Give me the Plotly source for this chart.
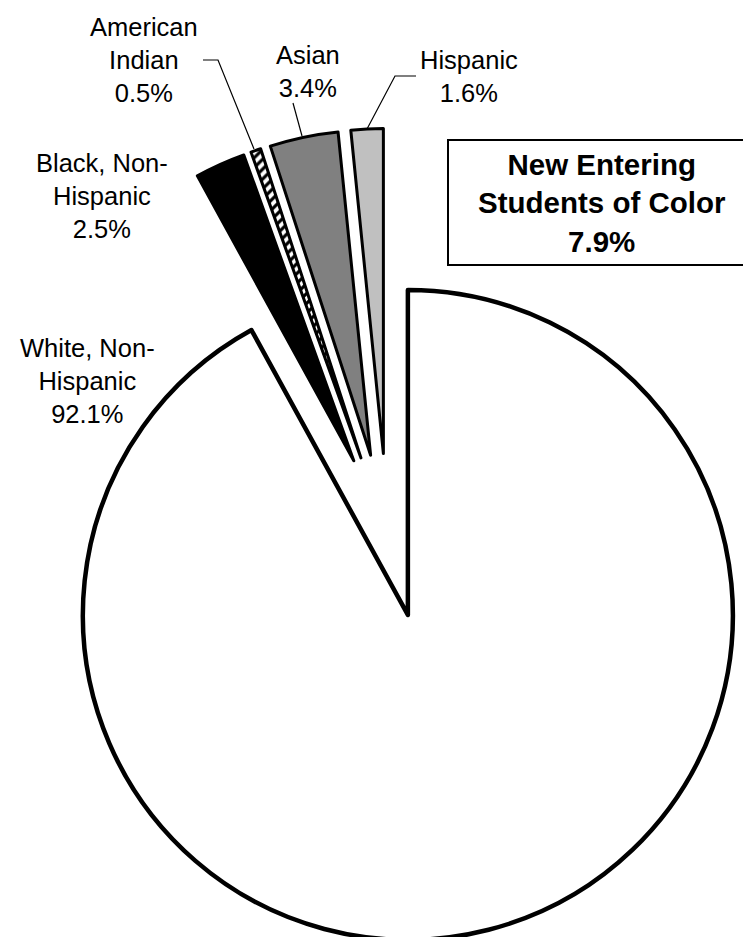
import math
import plotly.graph_objects as go

# ---------------- data ----------------
categories = ["White, Non-Hispanic", "Black, Non-Hispanic", "American Indian", "Asian", "Hispanic"]
values = [92.1, 2.5, 0.5, 3.4, 1.6]
label_texts = [
    "White, Non-<br>Hispanic<br>92.1%",
    "Black, Non-<br>Hispanic<br>2.5%",
    "American<br>Indian<br>0.5%",
    "Asian<br>3.4%",
    "Hispanic<br>1.6%",
]
summary_text = "<b>New Entering<br>Students of Color<br>7.9%</b>"

# ---------------- style / layout ----------------
W, H = 751, 937
CX, CY = 379.5, 527.5      # pie centre (px)
R = 325                    # pie radius (px)
EXPLODE = 82               # explosion distance of every slice (px)
fills = ["#ffffff", "#000000", "#ffffff", "#808080", "#c0c0c0"]
patterns = ["", "", "/", "", ""]
line_widths = [4.5, 3, 3, 3, 3]
FONT = "Arial, Liberation Sans, sans-serif"

label_pos = [(79, 373), (94, 188), (136, 52), (300, 63), (461, 68.5)]
leaders = [
    None,
    None,
    [(195, 52), (210, 52), (246, 141)],
    [(285, 95), (294, 128)],
    [(408, 68), (387, 68), (359, 121)],
]


def px(x):
    return x / W


def py(y):
    return 1 - y / H


fig = go.Figure()
n = len(values)
total = sum(values)
cum = 0.0
for i, v in enumerate(values):
    a0 = cum / total * 360.0
    cum += v
    a1 = cum / total * 360.0
    mid = math.radians((a0 + a1) / 2)
    vx = CX + EXPLODE * math.sin(mid)
    vy = CY - EXPLODE * math.cos(mid)
    colors = ["rgba(0,0,0,0)"] * n
    colors[i] = fills[i]
    lw = [0] * n
    lw[i] = line_widths[i]
    shp = [""] * n
    shp[i] = patterns[i]
    fig.add_trace(go.Pie(
        values=values,
        labels=categories,
        sort=False,
        direction="clockwise",
        rotation=0,
        textinfo="none",
        textposition="none",
        showlegend=False,
        hoverinfo="label+percent",
        marker=dict(
            colors=colors,
            line=dict(color="#000000", width=lw),
            pattern=dict(shape=shp, fgcolor="#000000", size=7, solidity=0.45),
        ),
        domain=dict(x=[px(vx - R), px(vx + R)], y=[py(vy + R), py(vy - R)]),
    ))

annotations = []
for txt, (x, y) in zip(label_texts, label_pos):
    annotations.append(dict(
        x=px(x), y=py(y), xref="paper", yref="paper", text=txt, showarrow=False,
        xanchor="center", yanchor="middle", align="center",
        font=dict(family=FONT, size=25.5, color="#000000"),
    ))
annotations.append(dict(
    x=px(594), y=py(195), xref="paper", yref="paper", text=summary_text, showarrow=False,
    xanchor="center", yanchor="middle", align="center",
    font=dict(family=FONT, size=29.5, color="#000000"),
))

shapes = []
for pts in leaders:
    if not pts:
        continue
    path = "M " + " L ".join(f"{px(x):.5f},{py(y):.5f}" for x, y in pts)
    shapes.append(dict(type="path", xref="paper", yref="paper", path=path,
                       line=dict(color="#000000", width=1.2)))
shapes.append(dict(type="rect", xref="paper", yref="paper",
                   x0=px(440), x1=px(748), y0=py(257), y1=py(132),
                   line=dict(color="#000000", width=2), fillcolor="rgba(0,0,0,0)"))

fig.update_layout(
    width=W, height=H,
    margin=dict(l=0, r=0, t=0, b=0),
    paper_bgcolor="#ffffff",
    plot_bgcolor="#ffffff",
    annotations=annotations,
    shapes=shapes,
    showlegend=False,
)

fig.write_html("out.html")
